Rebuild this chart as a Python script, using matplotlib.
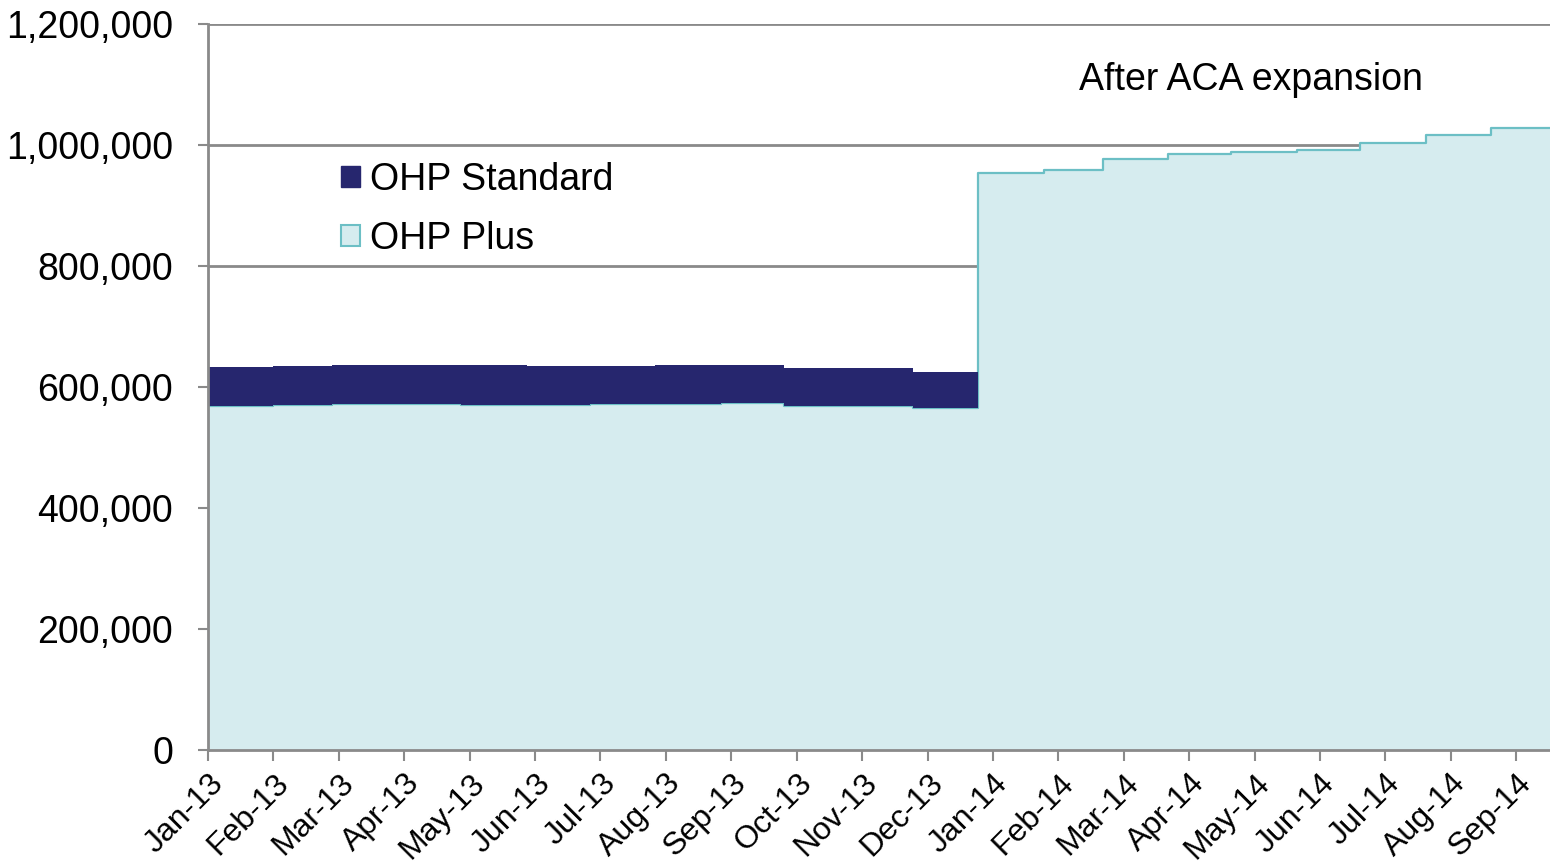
import numpy as np
import pandas as pd
import matplotlib
matplotlib.use("Agg")
import matplotlib.pyplot as plt
from matplotlib.patches import Patch
from matplotlib.ticker import FuncFormatter

plt.rcParams['font.family'] = ['Liberation Sans', 'DejaVu Sans']

# monthly enrollment (first of month)
months = pd.date_range("2013-01-01", periods=21, freq="MS")
ohp_plus = [568600, 569800, 571400, 571400, 570200, 570200, 571400, 572400, 574000,
            568600, 568600, 565800,
            953700, 959200, 976300, 985700, 988400, 992200, 1003800, 1016500, 1028100]
ohp_standard = [65000, 64900, 65000, 65000, 66700, 64500, 63800, 64000, 62900,
                62300, 62300, 58500,
                0, 0, 0, 0, 0, 0, 0, 0, 0]
tick_labels = ["Jan-13", "Feb-13", "Mar-13", "Apr-13", "May-13", "Jun-13", "Jul-13",
               "Aug-13", "Sep-13", "Oct-13", "Nov-13", "Dec-13", "Jan-14", "Feb-14",
               "Mar-14", "Apr-14", "May-14", "Jun-14", "Jul-14", "Aug-14", "Sep-14"]

navy = "#26266e"
light = "#d6ecef"
teal = "#6cbfc5"
grid_c = "#8a8a8a"

start = pd.Timestamp("2013-01-01")
end = start + pd.Timedelta(days=636)
x = list(months) + [end]
plus = np.array(ohp_plus + ohp_plus[-1:], dtype=float)
std = np.array(ohp_standard + ohp_standard[-1:], dtype=float)

fig = plt.figure(figsize=(15.5, 8.66), dpi=100)
ax = fig.add_axes([208 / 1550, 1 - 750 / 866, 1 - 208 / 1550, (750 - 24) / 866])

ax.fill_between(x, 0, plus, step="post", color=light, linewidth=0, zorder=2)
ax.step(x, plus, where="post", color=teal, linewidth=1.6, zorder=3)
n13 = 13  # standard band runs through Dec-13
ax.fill_between(x[:n13], plus[:n13], plus[:n13] + std[:n13], step="post",
                color=navy, linewidth=0, zorder=4)

ax.set_xlim(start, end)
ax.set_ylim(0, 1200000)
ax.set_yticks(np.arange(0, 1200001, 200000))
ax.yaxis.set_major_formatter(FuncFormatter(lambda v, p: f"{int(v):,}"))
ax.grid(axis="y", color=grid_c, linewidth=2, zorder=1)
ax.set_axisbelow(True)

tick_dates = [start + pd.Timedelta(days=31 * k) for k in range(len(tick_labels))]
ax.set_xticks(tick_dates)
ax.set_xticklabels(tick_labels, rotation=45, ha="right", va="top",
                   rotation_mode="anchor", fontsize=23)
ax.tick_params(axis="x", length=8, width=1.5, color=grid_c, pad=5)
ax.tick_params(axis="y", length=7, width=1.5, color=grid_c, labelsize=27, pad=18)

for s in ["top", "right"]:
    ax.spines[s].set_visible(False)
for s in ["left", "bottom"]:
    ax.spines[s].set_color(grid_c)
    ax.spines[s].set_linewidth(2)
    ax.spines[s].set_zorder(5)

handles = [Patch(facecolor=navy, edgecolor=navy, label="OHP Standard"),
           Patch(facecolor=light, edgecolor=teal, linewidth=1.5, label="OHP Plus")]
ax.legend(handles=handles, loc="upper left", bbox_to_anchor=(0.099, 0.81),
          frameon=False, fontsize=27, handlelength=0.5, handleheight=0.5,
          handletextpad=0.27, labelspacing=0.61, borderpad=0, borderaxespad=0)

ax.text(0.777, 0.923, "After ACA expansion", transform=ax.transAxes,
        fontsize=27, ha="center", va="center")

fig.savefig("out.png", dpi=100)
